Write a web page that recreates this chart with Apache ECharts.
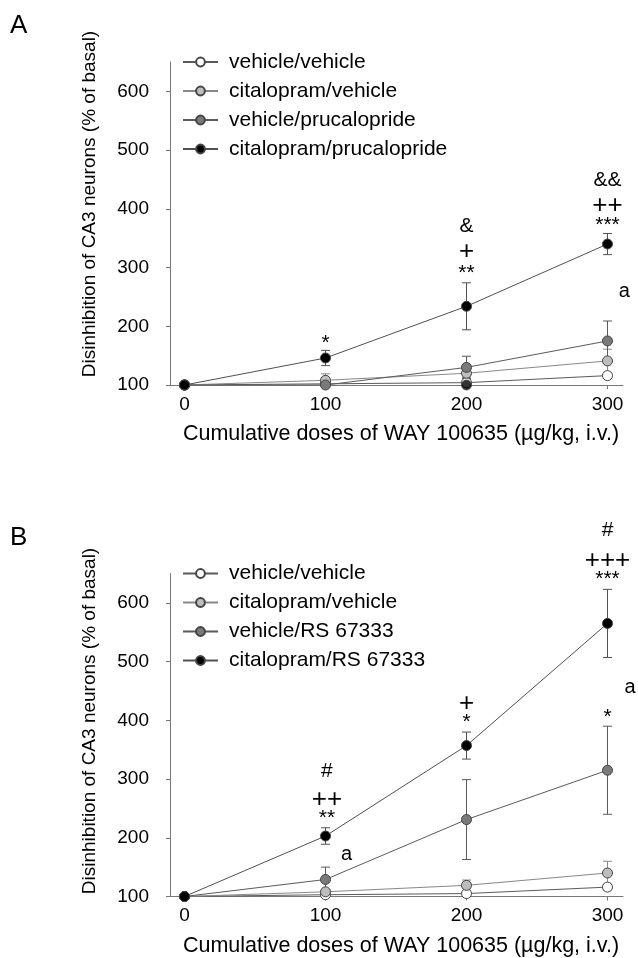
<!DOCTYPE html>
<html><head><meta charset="utf-8">
<script src="https://cdn.jsdelivr.net/npm/echarts@6/dist/echarts.min.js"></script>
<style>html,body{margin:0;padding:0;background:#fff}#c{width:638px;height:958px}</style>
</head><body><div id="c"></div>
<script>
// ---------- data ----------
const doses = [0, 100, 200, 300];
const xTicks = [0, 100, 200, 300];
const yTicks = [100, 200, 300, 400, 500, 600];
const namesA = ['vehicle/vehicle', 'citalopram/vehicle', 'vehicle/prucalopride', 'citalopram/prucalopride'];
const namesB = ['vehicle/vehicle', 'citalopram/vehicle', 'vehicle/RS 67333', 'citalopram/RS 67333'];

// Panel A
const vehVehA = [100, 102, 104, 116];
const vehVehAErr = [0, 2, 2, 4];
const citVehA = [100, 108, 120, 141];
const citVehAErr = [0, 11, 7, 20];
const vehPruA = [100, 100, 130, 175];
const vehPruAErr = [0, 3, 19, 34];
const citPruA = [100, 146, 234, 340];
const citPruAErr = [0, 13, 40, 18];
const extraDotA = [[200, 100]];
const annA = [[100, 180, '*'], [200, 299, '**'], [200, 328, '+'], [200, 371, '&'],
              [300, 381, '***'], [300, 407, '++'], [300, 448, '&&'], [312, 260, 'a']];

// Panel B
const vehVehB = [100, 103, 105, 116];
const vehVehBErr = [0, 2, 3, 5];
const citVehB = [100, 108, 119, 140];
const citVehBErr = [0, 4, 9, 20];
const vehRSB = [100, 129, 231, 315];
const vehRSBErr = [0, 21, 68, 75];
const citRSB = [100, 203, 357, 565];
const citRSBErr = [0, 14, 23, 58];
const annB = [[101, 242, '**'], [101, 267, '++'], [101, 314, '#'], [115, 171, 'a'],
              [200, 406, '*'], [200, 429, '+'], [300, 414, '*'],
              [300, 649, '***'], [300, 674, '+++'], [300, 723, '#'], [316, 456, 'a']];

// ---------- styles ----------
const FONT = 'Liberation Sans, Arial, Helvetica, sans-serif';
const fills = ['#ffffff', '#bdbdbd', '#7a7a7a', '#000000'];
const lineCols = ['#5a5a5a', '#888888', '#5a5a5a', '#505050'];

function lineSeries(name, vals, k, g) {
  return {
    type: 'line', name: name, xAxisIndex: g, yAxisIndex: g,
    data: doses.map((d, i) => [d, vals[i]]),
    symbol: 'circle', symbolSize: 10, showSymbol: true,
    lineStyle: { color: lineCols[k], width: 1 },
    itemStyle: { color: fills[k], borderColor: '#444', borderWidth: 1 },
    emphasis: { disabled: true }, z: 3 + k, animation: false
  };
}
function errSeries(vals, errs, k, g) {
  const data = [];
  doses.forEach((d, i) => { if (errs[i] > 0) data.push([d, vals[i] - errs[i], vals[i] + errs[i]]); });
  return {
    type: 'custom', xAxisIndex: g, yAxisIndex: g, data: data, z: 2, clip: false, silent: true,
    animation: false,
    renderItem: function (params, api) {
      const x = api.value(0), lo = api.coord([x, api.value(1)]), hi = api.coord([x, api.value(2)]);
      const w = 4.5, st = { stroke: lineCols[k], lineWidth: 1 };
      return { type: 'group', children: [
        { type: 'line', shape: { x1: lo[0], y1: lo[1], x2: hi[0], y2: hi[1] }, style: st },
        { type: 'line', shape: { x1: lo[0] - w, y1: lo[1], x2: lo[0] + w, y2: lo[1] }, style: st },
        { type: 'line', shape: { x1: hi[0] - w, y1: hi[1], x2: hi[0] + w, y2: hi[1] }, style: st }
      ]};
    }
  };
}
function annSeries(ann, g) {
  return {
    type: 'custom', xAxisIndex: g, yAxisIndex: g, data: ann.map(a => [a[0], a[1]]), z: 10,
    clip: false, silent: true, animation: false,
    renderItem: function (params, api) {
      const t = ann[params.dataIndex][2];
      const p = api.coord([api.value(0), api.value(1)]);
      const star = t.indexOf('*') >= 0;
      const plus = t.indexOf('+') >= 0;
      const size = t === 'a' ? 20 : (plus ? 26 : 21);
      return { type: 'text', x: p[0], y: p[1] + (star ? 5 : (plus ? 1 : 0)),
        style: { text: t, font: size + 'px ' + FONT, fill: '#000', align: 'center', verticalAlign: 'middle' } };
    }
  };
}

const grids = [
  { left: 170, top: 62, width: 453, height: 323 },
  { left: 170, top: 573.5, width: 453, height: 323 }
];
function xAx(g) {
  return {
    type: 'value', gridIndex: g, min: -10.3, max: 311,
    axisLine: { show: true, onZero: false, lineStyle: { color: '#777', width: 1 } },
    axisTick: { show: true, length: 4, customValues: xTicks, lineStyle: { color: '#777' } },
    axisLabel: { customValues: xTicks, fontSize: 19, fontFamily: FONT, color: '#000', margin: 10 },
    splitLine: { show: false }
  };
}
function yAx(g) {
  return {
    type: 'value', gridIndex: g, min: 100, max: 650,
    axisLine: { show: true, onZero: false, lineStyle: { color: '#777', width: 1 } },
    axisTick: { show: true, length: 4, customValues: yTicks, lineStyle: { color: '#777' } },
    axisLabel: { customValues: yTicks, fontSize: 19, fontFamily: FONT, color: '#000', margin: 21 },
    splitLine: { show: false }
  };
}
function legend(names, top) {
  return {
    orient: 'vertical', left: 182, top: top, data: names, padding: 0,
    itemWidth: 35, itemHeight: 11, itemGap: 8, selectedMode: false,
    textStyle: { fontSize: 21, fontFamily: FONT, color: '#000', lineHeight: 21, padding: [0, 0, 0, 6] }
  };
}

const series = [];
[vehVehA, citVehA, vehPruA, citPruA].forEach((v, k) => series.push(errSeries(v, [vehVehAErr, citVehAErr, vehPruAErr, citPruAErr][k], k, 0)));
[vehVehB, citVehB, vehRSB, citRSB].forEach((v, k) => series.push(errSeries(v, [vehVehBErr, citVehBErr, vehRSBErr, citRSBErr][k], k, 1)));
[vehVehA, citVehA, vehPruA, citPruA].forEach((v, k) => series.push(lineSeries(namesA[k], v, k, 0)));
[vehVehB, citVehB, vehRSB, citRSB].forEach((v, k) => series.push(lineSeries(namesB[k], v, k, 1)));
series.push({ type: 'scatter', xAxisIndex: 0, yAxisIndex: 0, data: extraDotA, symbolSize: 10,
  itemStyle: { color: '#000', borderColor: '#444', borderWidth: 1 }, z: 8, silent: true, animation: false });
series.push(annSeries(annA, 0));
series.push(annSeries(annB, 1));

const chart = echarts.init(document.getElementById('c'), null, { renderer: 'canvas' });
chart.setOption({
  animation: false,
  backgroundColor: '#fff',
  grid: grids,
  xAxis: [xAx(0), xAx(1)],
  yAxis: [yAx(0), yAx(1)],
  legend: [legend(namesA, 51.5), legend(namesB, 563)],
  series: series,
  graphic: [
    { type: 'text', left: 10, top: 13, style: { text: 'A', font: '26px ' + FONT, fill: '#000' } },
    { type: 'text', left: 10, top: 525, style: { text: 'B', font: '26px ' + FONT, fill: '#000' } },
    { type: 'text', x: 90, y: 204, rotation: Math.PI / 2,
      style: { text: 'Disinhibition of CA3 neurons (% of basal)', font: '19px ' + FONT, fill: '#000', align: 'center', verticalAlign: 'middle' } },
    { type: 'text', x: 90, y: 721, rotation: Math.PI / 2,
      style: { text: 'Disinhibition of CA3 neurons (% of basal)', font: '19px ' + FONT, fill: '#000', align: 'center', verticalAlign: 'middle' } },
    { type: 'text', x: 401, y: 434,
      style: { text: 'Cumulative doses of WAY 100635 (µg/kg, i.v.)', font: '21.5px ' + FONT, fill: '#000', align: 'center', verticalAlign: 'middle' } },
    { type: 'text', x: 401, y: 946,
      style: { text: 'Cumulative doses of WAY 100635 (µg/kg, i.v.)', font: '21.5px ' + FONT, fill: '#000', align: 'center', verticalAlign: 'middle' } }
  ]
});
</script>
</body></html>
